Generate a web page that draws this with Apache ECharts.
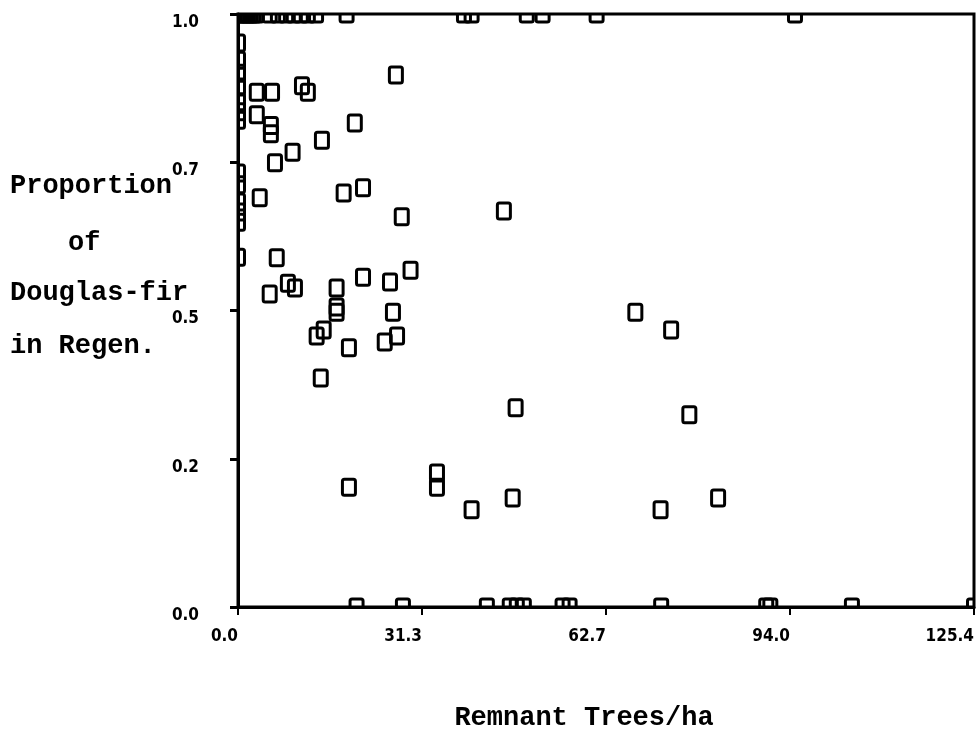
<!DOCTYPE html>
<html><head><meta charset="utf-8">
<script src="https://cdn.jsdelivr.net/npm/echarts@6/dist/echarts.min.js"></script>
<style>html,body{margin:0;padding:0;background:#fff}#c{width:977px;height:734px}</style>
</head><body><div id="c"></div>
<script>
// Tick labels and titles
const xTickLabels = ['0.0', '31.3', '62.7', '94.0', '125.4'];
const yTickLabels = ['0.0', '0.2', '0.5', '0.7', '1.0'];
const yTitleLines = ['Proportion', 'of', 'Douglas-fir', 'in Regen.'];
const xTitle = 'Remnant Trees/ha';

// Points with proportion = 1.0 (remnant trees/ha)
const topRowX = [0.2, 0.7, 1.2, 1.7, 2.2, 2.7, 3.2, 5.4, 6.8, 8.2, 9.5, 10.7, 11.9, 13.3, 18.5, 38.5, 39.8, 49.2, 51.9, 61.1, 94.9];
// Points with proportion = 0.0
const bottomRowX = [20.2, 28.1, 42.4, 46.3, 47.5, 48.7, 55.3, 56.5, 72.1, 90.0, 90.7, 104.6, 125.4];
// Points with remnant trees = 0 (proportion)
const leftColY = [0.951, 0.922, 0.90, 0.877, 0.852, 0.835, 0.821, 0.732, 0.712, 0.683, 0.666, 0.649, 0.59];
// Interior points
const interiorX = [26.9, 3.2, 5.8, 10.9, 11.9, 3.2, 5.6, 5.6, 19.9, 14.3, 9.3, 6.3, 21.3, 18.0, 3.7, 27.9, 45.3, 6.6, 29.4, 21.3, 25.9, 8.5, 9.7, 16.8, 5.4, 16.8, 16.8, 26.4, 14.6, 13.4, 27.1, 25.0, 18.9, 14.1, 18.9, 33.9, 33.9, 39.8, 46.8, 47.3, 67.7, 73.8, 76.9, 72.0, 81.8];
const interiorY = [0.897, 0.868, 0.868, 0.879, 0.868, 0.830, 0.812, 0.798, 0.816, 0.787, 0.767, 0.749, 0.707, 0.698, 0.69, 0.658, 0.668, 0.589, 0.568, 0.556, 0.548, 0.546, 0.538, 0.538, 0.528, 0.506, 0.497, 0.497, 0.467, 0.457, 0.457, 0.447, 0.437, 0.386, 0.202, 0.226, 0.202, 0.164, 0.184, 0.336, 0.497, 0.467, 0.324, 0.164, 0.184];

const points = [];
topRowX.forEach(x => points.push([x, 1.0]));
bottomRowX.forEach(x => points.push([x, 0.0]));
leftColY.forEach(y => points.push([0, y]));
interiorX.forEach((x, i) => points.push([x, interiorY[i]]));

const chart = echarts.init(document.getElementById('c'), null, {renderer: 'canvas'});
const labelFont = "'Liberation Sans Narrow', 'DejaVu Sans Condensed', 'Arial Narrow', sans-serif";
const titleFont = "'Liberation Mono', 'DejaVu Sans Mono', monospace";
const yTitleY = [186, 243, 293, 346];
const yTitleX = [10, 68, 10, 10];

chart.setOption({
  animation: false,
  backgroundColor: '#fff',
  grid: {left: 238, right: 2, top: 14, bottom: 127, show: true, borderColor: '#000', borderWidth: 3, backgroundColor: 'transparent'},
  xAxis: {
    type: 'value', min: 0, max: 125.4, interval: 31.35,
    splitLine: {show: false},
    axisLine: {show: true, onZero: false, lineStyle: {color: '#000', width: 3}},
    axisTick: {show: true, length: 8, lineStyle: {color: '#000', width: 2}},
    axisLabel: {
      margin: 21, align: 'right', color: '#000', fontFamily: labelFont, fontWeight: 'bold', fontSize: 17,
      formatter: v => xTickLabels[Math.round(v / 31.35)]
    }
  },
  yAxis: {
    type: 'value', min: 0, max: 1, interval: 0.25,
    splitLine: {show: false},
    axisLine: {show: true, onZero: false, lineStyle: {color: '#000', width: 3}},
    axisTick: {show: true, length: 8, lineStyle: {color: '#000', width: 3}},
    axisLabel: {
      margin: 39, verticalAlign: 'top', color: '#000', fontFamily: labelFont, fontWeight: 'bold', fontSize: 17,
      formatter: v => yTickLabels[Math.round(v / 0.25)]
    }
  },
  graphic: yTitleLines.map((t, i) => ({
    type: 'text', x: yTitleX[i], y: yTitleY[i],
    style: {text: t, font: 'bold 27px ' + titleFont, fill: '#000', textAlign: 'left', textVerticalAlign: 'middle'}
  })).concat([{
    type: 'text', x: 584, y: 718,
    style: {text: xTitle, font: 'bold 27px ' + titleFont, fill: '#000', textAlign: 'center', textVerticalAlign: 'middle'}
  }]),
  series: [{
    type: 'custom',
    clip: true,
    data: points,
    renderItem: function (params, api) {
      const p = api.coord([api.value(0), api.value(1)]);
      return {
        type: 'rect',
        shape: {x: p[0] - 6.5, y: p[1] - 8, width: 13, height: 16, r: 2},
        style: {fill: 'none', stroke: '#000', lineWidth: 3}
      };
    }
  }]
});
</script>
</body></html>
